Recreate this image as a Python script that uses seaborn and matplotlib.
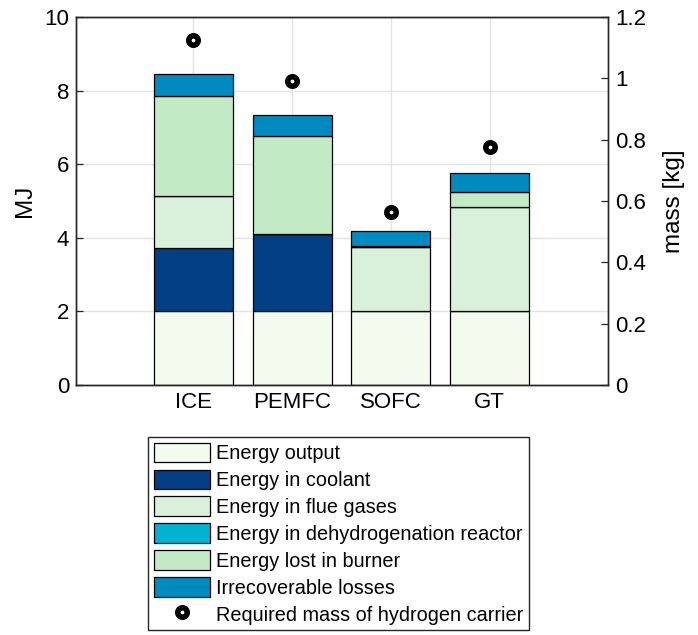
import matplotlib
matplotlib.use("Agg")
import matplotlib.pyplot as plt
from matplotlib.patches import Patch
from matplotlib.lines import Line2D
import numpy as np
import pandas as pd
import seaborn as sns

# Energy balance per powertrain (MJ) and required hydrogen-carrier mass (kg)
systems = ["ICE", "PEMFC", "SOFC", "GT"]
energy_output = [2.0, 2.0, 2.0, 2.0]
energy_coolant = [1.71, 2.09, 0.0, 0.0]
energy_flue_gases = [1.43, 0.0, 1.74, 2.83]
energy_dehydrogenation = [0.0, 0.0, 0.0, 0.0]
energy_burner = [2.72, 2.67, 0.03, 0.41]
irrecoverable_losses = [0.59, 0.58, 0.41, 0.51]
carrier_mass = [1.125, 0.99, 0.565, 0.775]

component_names = [
    "Energy output",
    "Energy in coolant",
    "Energy in flue gases",
    "Energy in dehydrogenation reactor",
    "Energy lost in burner",
    "Irrecoverable losses",
]
component_values = [
    energy_output,
    energy_coolant,
    energy_flue_gases,
    energy_dehydrogenation,
    energy_burner,
    irrecoverable_losses,
]
component_colors = ["#f3fbee", "#023f84", "#d9f1da", "#00b3d3", "#c1eac5", "#008bc0"]
mass_label = "Required mass of hydrogen carrier"

sns.set_theme(style="white")
plt.rcParams["font.family"] = ["Liberation Sans", "DejaVu Sans"]
ink = "#262626"

fig = plt.figure(figsize=(6.98, 6.35), dpi=100)
ax = fig.add_axes([76 / 698, 1 - 385 / 635, 532 / 698, 368 / 635])

bottom = np.zeros(len(systems))
for name, vals, col in zip(component_names, component_values, component_colors):
    df = pd.DataFrame({"system": systems, "value": vals})
    sns.barplot(data=df, x="system", y="value", order=systems, bottom=bottom,
                color=col, saturation=1, width=0.8, edgecolor="black",
                linewidth=0.9, errorbar=None, ax=ax)
    bottom = bottom + np.array(vals)

ax.set_axisbelow(True)
ax.xaxis.grid(True, color="#e3e3e3", linewidth=1.0)
ax.yaxis.grid(True, color="#e3e3e3", linewidth=1.0)

ax.set_ylim(0, 10)
ax.set_yticks(np.arange(0, 11, 2))
ax.set_xlim(-1.19, 4.2)
ax.set_xlabel("")
ax.set_ylabel("MJ", fontsize=17.5, color="black", labelpad=6)

# Second axis for the carrier mass
ax2 = ax.twinx()
mdf = pd.DataFrame({"system": systems, "mass": carrier_mass})
sns.pointplot(data=mdf, x="system", y="mass", order=systems, linestyle="none",
              marker="o", color="black", markersize=6.8, markeredgewidth=4.0,
              markerfacecolor="white", markeredgecolor="black", errorbar=None,
              ax=ax2)
ax2.set_ylim(0, 1.2)
ax2.set_yticks(np.arange(0, 1.21, 0.2))
ax2.set_yticklabels(["0", "0.2", "0.4", "0.6", "0.8", "1", "1.2"])
ax2.set_xlim(-1.19, 4.2)
ax2.set_xlabel("")
ax2.set_ylabel("mass [kg]", fontsize=17.5, color="black", labelpad=12)
ax2.grid(False)

for a in (ax, ax2):
    for s in a.spines.values():
        s.set_visible(True)
        s.set_color(ink)
        s.set_linewidth(1.0)
ax.tick_params(axis="both", direction="in", length=5, width=0.9, color=ink,
               labelsize=16, labelcolor="black", pad=5)
ax.tick_params(axis="x", bottom=True, top=False)
ax.tick_params(axis="y", left=True, right=False)
ax2.tick_params(axis="y", direction="in", length=5, width=0.9, color=ink,
                labelsize=16, labelcolor="black", pad=5, right=True, left=False)
ax.set_yticklabels(["0", "2", "4", "6", "8", "10"])

handles = [Patch(facecolor=c, edgecolor="black", linewidth=0.9)
           for c in component_colors]
handles.append(Line2D([], [], linestyle="none", marker="o", color="black",
                      markersize=6.8, markeredgewidth=4.0,
                      markerfacecolor="white", markeredgecolor="black"))
labels = component_names + [mass_label]
leg = fig.legend(handles, labels, loc="upper left",
                 bbox_to_anchor=(148 / 698, 1 - 437 / 635), borderaxespad=0,
                 fontsize=14.3, frameon=True, fancybox=False, edgecolor=ink,
                 framealpha=1, handlelength=2.85, handleheight=1.15,
                 handletextpad=0.3, labelspacing=0.32, borderpad=0.28,
                 labelcolor="black")
leg.get_frame().set_linewidth(1.0)

fig.savefig("out.png", dpi=100)
